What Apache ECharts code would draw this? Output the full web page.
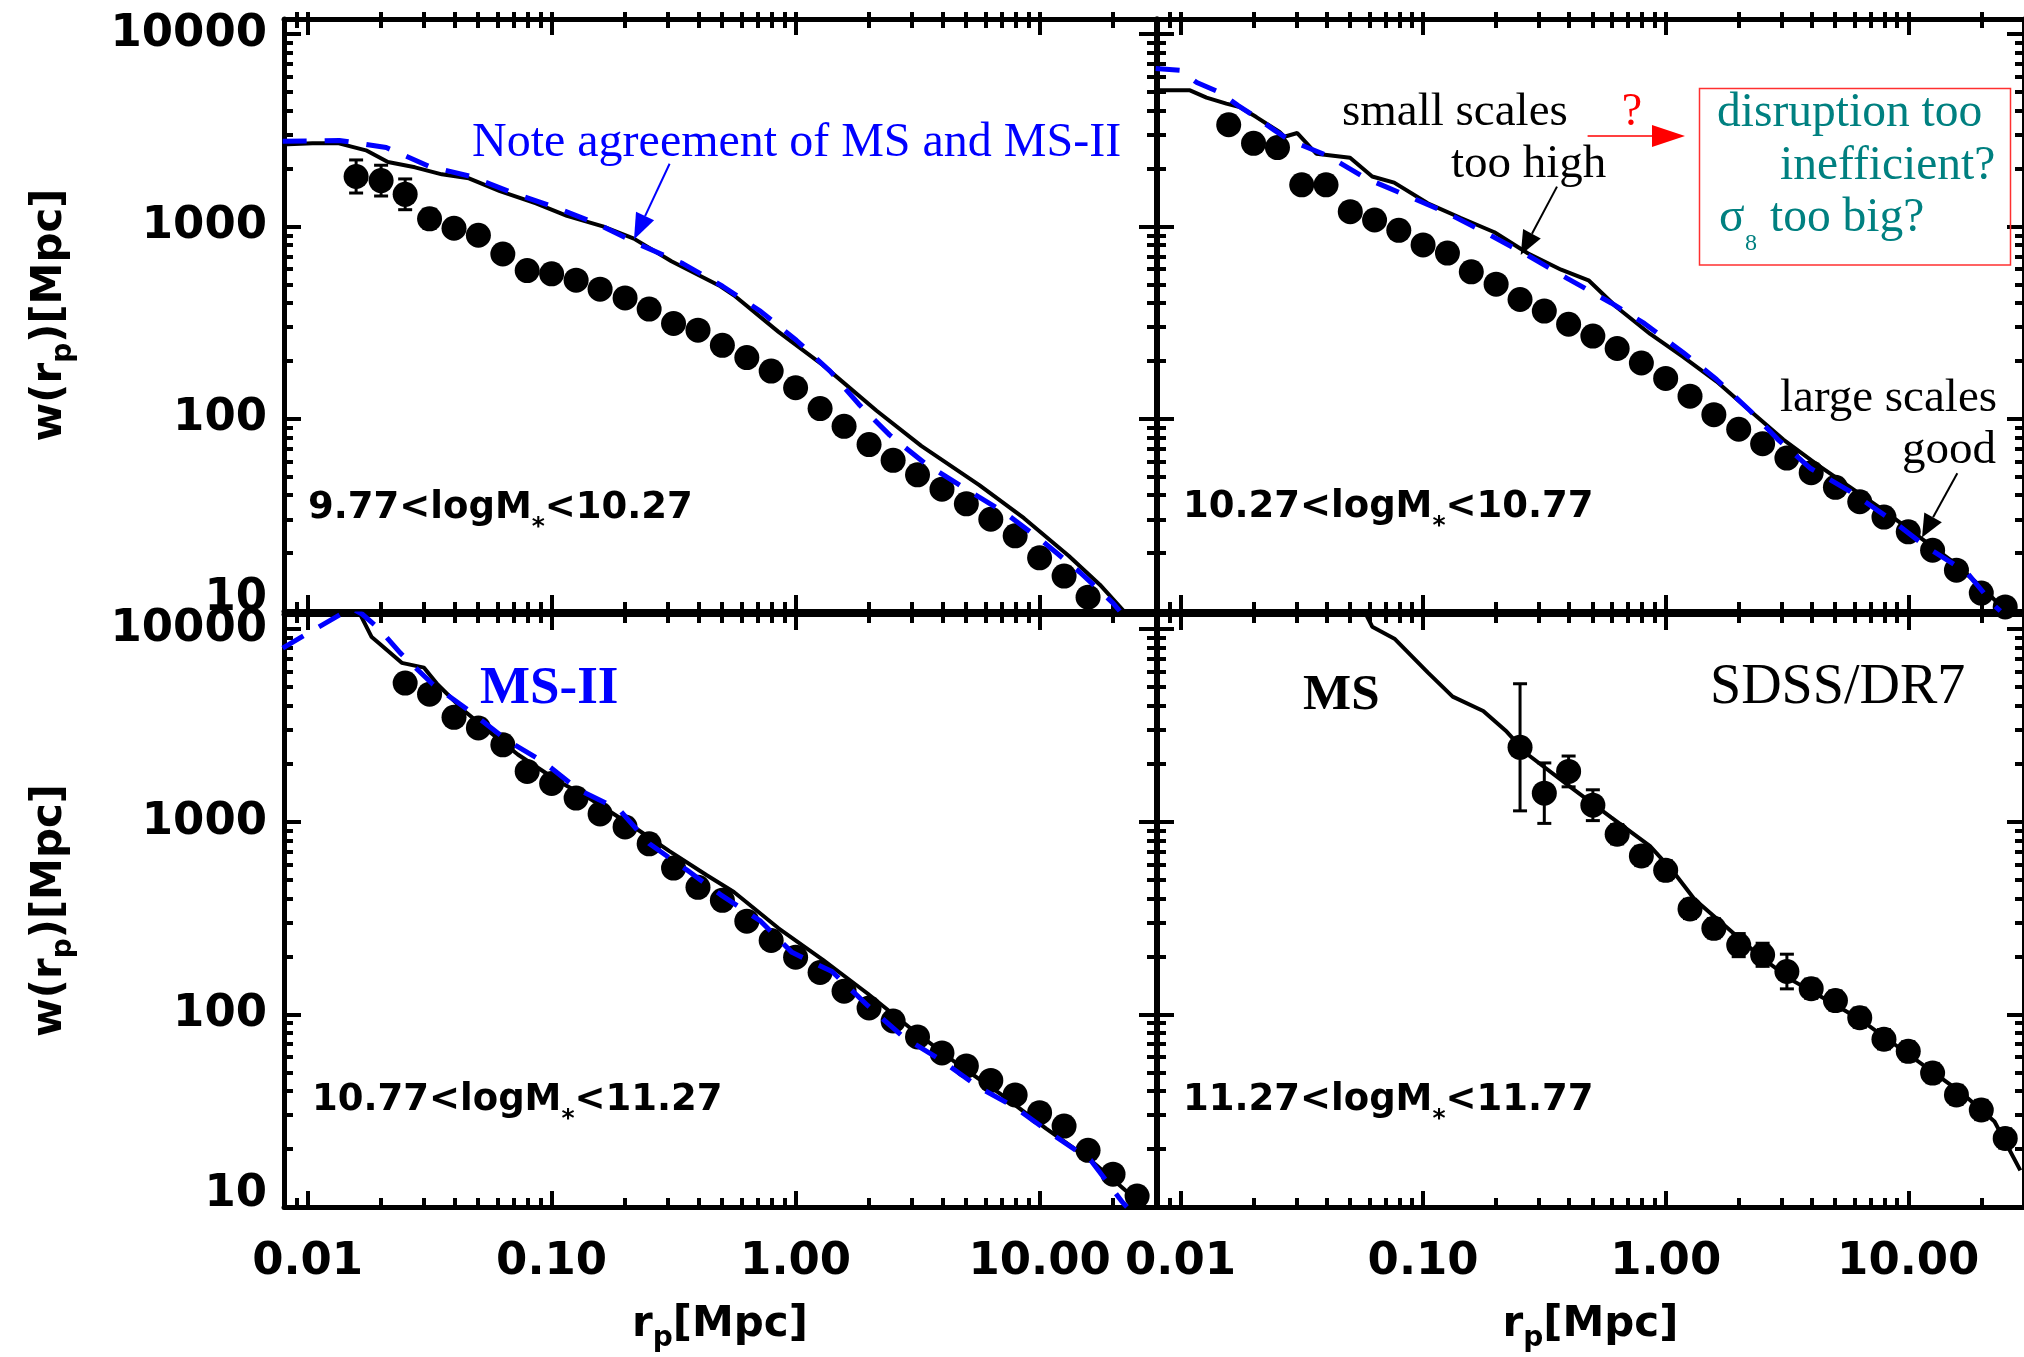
<!DOCTYPE html>
<html><head><meta charset="utf-8">
<script src="https://cdn.jsdelivr.net/npm/echarts@6/dist/echarts.min.js"></script>
<style>html,body{margin:0;padding:0;background:#fff}#c{width:2024px;height:1357px}</style>
</head><body><div id="c"></div>
<script>
// ---------- tick labels / panel labels ----------
const xTickLabels = ['0.01', '0.10', '1.00', '10.00'];
const yTickLabels = ['10', '100', '1000', '10000'];
const panelLabels = [
  ['9.77<logM', '*', '<10.27'],
  ['10.27<logM', '*', '<10.77'],
  ['10.77<logM', '*', '<11.27'],
  ['11.27<logM', '*', '<11.77']
];
const X_MIN = 0.008, X_MAX = 30, Y_MIN = 10, Y_MAX = 12000;

// ---------- SDSS/DR7 data (r_p bins, w(r_p)) ----------
const rpBins = [0.0158, 0.0200, 0.0251, 0.0316, 0.0398, 0.0501, 0.0631, 0.0794, 0.100, 0.126, 0.158,
  0.200, 0.251, 0.316, 0.398, 0.501, 0.631, 0.794, 1.00, 1.26, 1.58, 2.00, 2.51, 3.16, 3.98, 5.01,
  6.31, 7.94, 10.0, 12.6, 15.8, 20.0, 25.1];
const w1 = [1820, 1732, 1470, 1096, 979, 900, 719, 590, 567, 526, 472, 425, 372, 313, 289, 241, 208, 177,
  145, 113, 91.3, 73.4, 60.8, 51.1, 43.0, 36.1, 30.0, 24.6, 18.9, 15.2, 11.8, null, null];
const w2 = [3381, 2706, 2574, 1647, 1647, 1194, 1081, 955, 802, 727, 581, 501, 417, 363, 310, 269, 232, 195,
  162, 131, 105, 88.2, 74.1, 62.4, 52.4, 44.0, 37.0, 30.8, 25.8, 20.7, 16.3, 12.4, 10.5];
const w3 = [null, null, 5256, 4603, 3487, 3073, 2510, 1827, 1581, 1329, 1099, 941, 769, 575, 457, 391, 305,
  242, 198, 165, 132, 108, 92.4, 76.4, 63.1, 54.0, 45.4, 38.2, 30.9, 26.3, 19.7, 14.8, 11.4];
const w4 = [null, null, null, null, null, null, null, null, null, null, null, null, 2438, 1409, 1827, 1220,
  862, 665, 560, 353, 280, 229, 204, 167, 136, 118, 96.2, 74.3, 64.3, 49.6, 38.2, 31.9, 22.7];
// error bar half-widths (dex)
const e1 = [0.086, 0.08, 0.08, 0.05, 0.04, 0.04, 0.04, 0.03, 0.03, 0.03, 0.03, 0.03, 0.03, 0.02, 0.02, 0.02,
  0.02, 0.02, 0.02, 0.02, 0.02, 0.02, 0.02, 0.02, 0.02, 0.02, 0.02, 0.02, 0.02, 0.02, 0.02, null, null];
const e2 = [0.03, 0.03, 0.03, 0.03, 0.03, 0.03, 0.03, 0.03, 0.03, 0.03, 0.03, 0.03, 0.03, 0.03, 0.03, 0.03,
  0.03, 0.03, 0.03, 0.03, 0.03, 0.03, 0.03, 0.03, 0.03, 0.03, 0.03, 0.03, 0.03, 0.03, 0.03, 0.03, 0.03];
const e3 = [null, null, 0.03, 0.03, 0.03, 0.03, 0.03, 0.03, 0.03, 0.03, 0.03, 0.03, 0.03, 0.03, 0.03, 0.03,
  0.03, 0.03, 0.03, 0.03, 0.03, 0.03, 0.03, 0.03, 0.03, 0.03, 0.03, 0.03, 0.03, 0.03, 0.03, 0.03, 0.03];
const e4 = [null, null, null, null, null, null, null, null, null, null, null, null, 0.33, 0.157, 0.08, 0.08,
  0.05, 0.05, 0.05, 0.05, 0.05, 0.06, 0.06, 0.09, 0.05, 0.05, 0.05, 0.05, 0.05, 0.05, 0.05, 0.05, 0.05];

// ---------- Millennium (MS, solid black) ----------
const msRp1 = [0.00785, 0.01047, 0.01343, 0.01734, 0.02133, 0.02754, 0.03548, 0.04581, 0.06138, 0.0863, 0.1156,
  0.1622, 0.2173, 0.3097, 0.492, 0.5585, 0.851, 1.294, 2.148, 3.273, 5.662, 8.63, 13.15, 17.66, 22.28];
const msW1 = [2667, 2706, 2706, 2489, 2163, 2031, 1867, 1780, 1529, 1320, 1135, 1002, 865, 659, 489, 439, 283,
  190, 110, 72.3, 45.2, 30.4, 19.4, 13.7, 9.9];
const msRp2 = [0.0080, 0.01094, 0.0128, 0.01545, 0.01753, 0.02054, 0.0256, 0.0268, 0.0303, 0.0363, 0.050, 0.0617,
  0.0760, 0.1045, 0.1432, 0.1968, 0.270, 0.3707, 0.4808, 0.6266, 0.863, 1.180, 1.622, 2.228, 3.055, 4.198,
  5.754, 7.89, 10.81, 14.86, 20.37, 25.18];
const msW2 = [5108, 5108, 4677, 4355, 4182, 3707, 3100, 2930, 3062, 2390, 2276, 1820, 1690, 1320, 1107, 933, 726,
  596, 525, 381, 276, 210, 156, 110, 77.9, 57.9, 44.1, 33.5, 24.9, 18.5, 13.1, 10.0];
const msRp3 = [0.0152, 0.0183, 0.01967, 0.0243, 0.030, 0.0341, 0.0439, 0.0564, 0.0727, 0.1061, 0.1422, 0.2173,
  0.304, 0.4325, 0.5585, 0.851, 1.294, 1.977, 3.01, 4.58, 7.0, 10.64, 16.2, 24.7, 26.3];
const msW3 = [14500, 9110, 8430, 6691, 6318, 5164, 3761, 2898, 2236, 1629, 1330, 940, 705, 528, 432, 280, 192,
  128, 83.3, 55.6, 38.2, 25.5, 17.5, 11.0, 10.1];
const msRp4 = [0.0556, 0.0617, 0.0762, 0.1045, 0.1324, 0.177, 0.2186, 0.270, 0.412, 0.596, 0.862, 1.064, 1.314,
  1.803, 2.47, 3.396, 4.656, 6.39, 8.77, 12.04, 16.5, 22.67, 28.97];
const msW4 = [13370, 10310, 8935, 5969, 4467, 3761, 2982, 2236, 1493, 1055, 747, 560, 396, 280, 198, 148, 118,
  93.5, 70.0, 52.5, 39.4, 27.8, 15.5];

// ---------- Millennium-II (MS-II, dashed blue) ----------
const ms2Rp1 = [0.0079, 0.01349, 0.0210, 0.0313, 0.0467, 0.0697, 0.104, 0.155, 0.231, 0.345, 0.502, 0.719, 1.007,
  1.384, 1.816, 2.432, 3.42, 4.99, 7.14, 10.02, 14.62, 20.0, 21.3];
const ms2W1 = [2773, 2802, 2574, 2061, 1820, 1492, 1254, 1028, 802, 641, 489, 362, 256, 177, 119, 82.2, 58.1,
  43.1, 32.7, 23.7, 15.9, 11.0, 10.0];
const ms2Rp2 = [0.0079, 0.00994, 0.01167, 0.01452, 0.01722, 0.0208, 0.02443, 0.02815, 0.0405, 0.0585, 0.0847,
  0.1225, 0.1866, 0.270, 0.391, 0.596, 0.817, 1.180, 1.622, 2.228, 2.904, 3.963, 5.754, 8.318, 11.99, 17.42,
  22.59, 23.96];
const ms2W2 = [6637, 6486, 5610, 4983, 4266, 3651, 3162, 2805, 2331, 1774, 1455, 1194, 909, 708, 539, 400, 313,
  221, 160, 110, 77.9, 55.1, 41.9, 30.4, 21.4, 15.9, 10.7, 10.0];
const ms2Rp3 = [0.0079, 0.00975, 0.01145, 0.01371, 0.01506, 0.01671, 0.01967, 0.024, 0.03266, 0.0461, 0.0654,
  0.0924, 0.1282, 0.190, 0.2518, 0.360, 0.492, 0.719, 0.966, 1.41, 1.978, 2.767, 3.865, 5.662, 7.925, 11.12,
  16.2, 21.7, 22.8];
const ms2W3 = [7985, 9330, 10510, 12000, 12880, 12000, 10020, 7516, 5164, 3761, 2659, 2051, 1475, 1152, 769, 560,
  419, 305, 210, 167, 111, 76.3, 58.9, 41.7, 33.0, 24.1, 17.5, 10.7, 10.0];

// ---------- axis tick positions ----------
const xMajorTicks = [0.01, 0.1, 1, 10];
const xMinorTicks = [0.009, 0.02, 0.03, 0.04, 0.05, 0.06, 0.07, 0.08, 0.09, 0.2, 0.3, 0.4, 0.5, 0.6, 0.7, 0.8,
  0.9, 2, 3, 4, 5, 6, 7, 8, 9, 20];
const yMajorTicks = [10, 100, 1000, 10000];
const yMinorTicks = [20, 30, 40, 50, 60, 70, 80, 90, 200, 300, 400, 500, 600, 700, 800, 900, 2000, 3000, 4000,
  5000, 6000, 7000, 8000, 9000];

// ================= build chart =================
const L = Math.log10;
const chart = echarts.init(document.getElementById('c'), null, {renderer: 'canvas'});
const grids = [
  {left: 284, top: 19, width: 872, height: 592},
  {left: 1157, top: 19, width: 870, height: 592},
  {left: 284, top: 614, width: 872, height: 593},
  {left: 1157, top: 614, width: 870, height: 593}
];
const TICKW = 4;
const lineStyleAxis = {color: '#000', width: 5};
const tickFont = {fontFamily: 'DejaVu Sans', fontWeight: 'bold', fontSize: 45, color: '#000'};
const subRich = (size, sub, pad) => ({
  a: {fontFamily: 'DejaVu Sans', fontWeight: 'bold', fontSize: size, color: '#000', lineHeight: size + 2},
  s: {fontFamily: 'DejaVu Sans', fontWeight: 'bold', fontSize: sub, color: '#000', lineHeight: sub, padding: [pad, 0, 0, 0]}
});

const xAxes = [], yAxes = [];
grids.forEach((g, gi) => {
  const bottomRow = gi >= 2, leftCol = gi % 2 === 0;
  const bx = {type: 'value', gridIndex: gi, min: L(X_MIN), max: L(X_MAX), splitLine: {show: false},
    axisLabel: {show: false}, axisLine: {show: false, onZero: false}, silent: true};
  const by = {type: 'value', gridIndex: gi, min: L(Y_MIN), max: L(Y_MAX), splitLine: {show: false},
    axisLabel: {show: false}, axisLine: {show: false, onZero: false}, silent: true};
  const majX = {inside: true, length: 16, customValues: xMajorTicks.map(L), lineStyle: {color: '#000', width: TICKW}};
  const minX = {inside: true, length: 9, customValues: xMinorTicks.map(L), lineStyle: {color: '#000', width: TICKW}};
  const outX = {inside: false, length: 7, customValues: xMajorTicks.concat(xMinorTicks).map(L), lineStyle: {color: '#000', width: TICKW}};
  const majY = {inside: true, length: 17, customValues: yMajorTicks.map(L), lineStyle: {color: '#000', width: TICKW}};
  const minY = {inside: true, length: 9, customValues: yMinorTicks.map(L), lineStyle: {color: '#000', width: TICKW}};
  const mainX = Object.assign({}, bx, {position: 'bottom', axisLine: {show: true, onZero: false, lineStyle: lineStyleAxis}, axisTick: majX});
  if (bottomRow) {
    mainX.axisLabel = Object.assign({show: true, margin: 33, customValues: xMajorTicks.map(L),
      formatter: v => xTickLabels[Math.round(v) + 2]}, tickFont);
    mainX.name = '{a|r}{s|p}{a|[Mpc]}';
    mainX.nameLocation = 'middle';
    mainX.nameGap = 96;
    mainX.nameTextStyle = {rich: subRich(42, 28, 28)};
  }
  xAxes.push(mainX,
    Object.assign({}, bx, {position: 'bottom', axisTick: minX}),
    Object.assign({}, bx, {position: 'top', axisLine: {show: true, onZero: false, lineStyle: lineStyleAxis}, axisTick: majX}),
    Object.assign({}, bx, {position: 'top', axisTick: minX}));
  if (!bottomRow) {
    // ticks of the (cropped) panel above poke through the top edge
    xAxes.push(Object.assign({}, bx, {position: 'top', axisTick: outX}));
  }
  const mainY = Object.assign({}, by, {position: 'left', axisLine: {show: true, onZero: false, lineStyle: lineStyleAxis}, axisTick: majY});
  if (leftCol) {
    mainY.axisLabel = Object.assign({show: true, margin: 17, lineHeight: 26, customValues: yMajorTicks.map(L),
      formatter: v => yTickLabels[Math.round(v) - 1], verticalAlignMinLabel: 'bottom'}, tickFont);
    mainY.name = '{a|w(r}{s|p}{a|)[Mpc]}';
    mainY.nameLocation = 'middle';
    mainY.nameRotate = 90;
    mainY.nameGap = 212;
    mainY.nameTextStyle = {rich: subRich(42, 28, 28)};
  }
  yAxes.push(mainY,
    Object.assign({}, by, {position: 'left', axisTick: minY}),
    Object.assign({}, by, {position: 'right', axisLine: {show: true, onZero: false, lineStyle: lineStyleAxis}, axisTick: majY}),
    Object.assign({}, by, {position: 'right', axisTick: minY}));
});

// index of the main x axis of each grid (top row grids have one extra axis)
const mainXIndex = [0, 5, 10, 14];
const series = [];
const panels = [
  {w: w1, e: e1, msRp: msRp1, msW: msW1, ms2Rp: ms2Rp1, ms2W: ms2W1},
  {w: w2, e: e2, msRp: msRp2, msW: msW2, ms2Rp: ms2Rp2, ms2W: ms2W2},
  {w: w3, e: e3, msRp: msRp3, msW: msW3, ms2Rp: ms2Rp3, ms2W: ms2W3},
  {w: w4, e: e4, msRp: msRp4, msW: msW4, ms2Rp: null, ms2W: null}
];
panels.forEach((p, gi) => {
  const ax = {xAxisIndex: mainXIndex[gi], yAxisIndex: 4 * gi};
  const pts = [], errs = [];
  rpBins.forEach((x, i) => {
    if (p.w[i] == null) return;
    pts.push([L(x), L(p.w[i])]);
    if (p.e[i]) errs.push([L(x), L(p.w[i]) - p.e[i], L(p.w[i]) + p.e[i]]);
  });
  series.push(Object.assign({
    type: 'custom', name: 'SDSS err ' + gi, z: 2, clip: true, data: errs, silent: true,
    renderItem: (params, api) => {
      const lo = api.coord([api.value(0), api.value(1)]);
      const hi = api.coord([api.value(0), api.value(2)]);
      const s = {stroke: '#000', lineWidth: 3};
      return {type: 'group', children: [
        {type: 'line', shape: {x1: lo[0], y1: lo[1], x2: hi[0], y2: hi[1]}, style: s},
        {type: 'line', shape: {x1: lo[0] - 7, y1: lo[1], x2: lo[0] + 7, y2: lo[1]}, style: s},
        {type: 'line', shape: {x1: hi[0] - 7, y1: hi[1], x2: hi[0] + 7, y2: hi[1]}, style: s}
      ]};
    }
  }, ax));
  series.push(Object.assign({type: 'scatter', name: 'SDSS/DR7 ' + gi, z: 3, data: pts, symbol: 'circle',
    symbolSize: 25, itemStyle: {color: '#000', opacity: 1}, silent: true}, ax));
  series.push(Object.assign({type: 'line', name: 'MS ' + gi, z: 4, symbol: 'none', clip: true, silent: true,
    data: p.msRp.map((x, i) => [L(x), L(p.msW[i])]), lineStyle: {color: '#000', width: 4}}, ax));
  if (p.ms2Rp) {
    series.push(Object.assign({type: 'line', name: 'MS-II ' + gi, z: 5, symbol: 'none', clip: true, silent: true,
      data: p.ms2Rp.map((x, i) => [L(x), L(p.ms2W[i])]),
      lineStyle: {color: '#0000ff', width: 5, type: [24, 18], cap: 'butt'}}, ax));
  }
});

// ---------- annotations ----------
function txt(text, x, y, size, color, o) {
  o = o || {};
  const al = o.align || 'left';
  return {type: 'text', z: 20, silent: true, style: {text: text, x: x, y: y, fill: color,
    font: (o.weight || 'normal') + ' ' + size + 'px "' + (o.family || 'Liberation Serif') + '"',
    align: al, textAlign: al, verticalAlign: 'middle', textVerticalAlign: 'middle'}};
}
function arrow(x1, y1, x2, y2, color, lw, hl, hw) {
  const dx = x2 - x1, dy = y2 - y1, len = Math.hypot(dx, dy), ux = dx / len, uy = dy / len;
  const bx = x2 - ux * hl, by = y2 - uy * hl;
  return [
    {type: 'line', z: 20, silent: true, shape: {x1: x1, y1: y1, x2: bx, y2: by}, style: {stroke: color, lineWidth: lw}},
    {type: 'polygon', z: 20, silent: true, shape: {points: [[x2, y2], [bx - uy * hw, by + ux * hw], [bx + uy * hw, by - ux * hw]]},
      style: {fill: color}}
  ];
}
function panelLabel(parts, x, y) {
  return {type: 'text', z: 20, silent: true, style: {
    text: '{a|' + parts[0] + '}{s|' + parts[1] + '}{a|' + parts[2] + '}', x: x, y: y,
    align: 'left', textAlign: 'left', verticalAlign: 'middle', textVerticalAlign: 'middle',
    rich: {
      a: {fontFamily: 'DejaVu Sans', fontWeight: 'bold', fontSize: 37, fill: '#000', color: '#000', lineHeight: 40},
      s: {fontFamily: 'DejaVu Sans', fontWeight: 'bold', fontSize: 25, fill: '#000', color: '#000', lineHeight: 25, padding: [38, 0, 0, 0]}
    }}};
}
const TEAL = '#008080';
const DY = 4;
const elements = [
  panelLabel(panelLabels[0], 308, 508),
  panelLabel(panelLabels[1], 1183, 507),
  panelLabel(panelLabels[2], 312, 1100),
  panelLabel(panelLabels[3], 1183, 1100),
  txt('Note agreement of MS and MS-II', 472, 139 + DY, 48, '#0000ff'),
  ...arrow(669.6, 163.8, 634, 239.6, '#0000ff', 2, 26, 10),
  txt('small scales', 1342, 109 + DY, 47, '#000'),
  txt('too high', 1451, 161 + DY, 47, '#000'),
  ...arrow(1557, 186.6, 1520.7, 255, '#000', 2, 24, 10),
  txt('?', 1632, 109 + DY, 46, '#ff0000', {align: 'center'}),
  ...arrow(1587.6, 136, 1685, 136, '#ff0000', 1.5, 33, 11),
  {type: 'rect', z: 20, silent: true, shape: {x: 1699.5, y: 88.5, width: 311, height: 176.5},
    style: {fill: 'none', stroke: '#ff3030', lineWidth: 1.5}},
  txt('disruption too', 1717, 110 + DY, 47.5, TEAL),
  txt('inefficient?', 1780, 163 + DY, 47.5, TEAL),
  txt('\u03c3', 1719, 215 + DY, 47.5, TEAL),
  txt('8', 1745, 244, 24, TEAL),
  txt('too big?', 1770, 215 + DY, 47.5, TEAL),
  txt('large scales', 1780, 395 + DY, 47, '#000'),
  txt('good', 1902, 447 + DY, 47, '#000'),
  ...arrow(1957.3, 473.3, 1922, 537.5, '#000', 2, 23, 10),
  txt('MS-II', 480, 689, 53, '#0000ff', {weight: 'bold'}),
  txt('MS', 1303, 696, 51, '#000', {weight: 'bold'}),
  txt('SDSS/DR7', 1710, 688, 56, '#000')
];

chart.setOption({
  animation: false,
  backgroundColor: '#ffffff',
  grid: grids,
  xAxis: xAxes,
  yAxis: yAxes,
  series: series,
  graphic: {elements: elements}
});
</script>
</body></html>
